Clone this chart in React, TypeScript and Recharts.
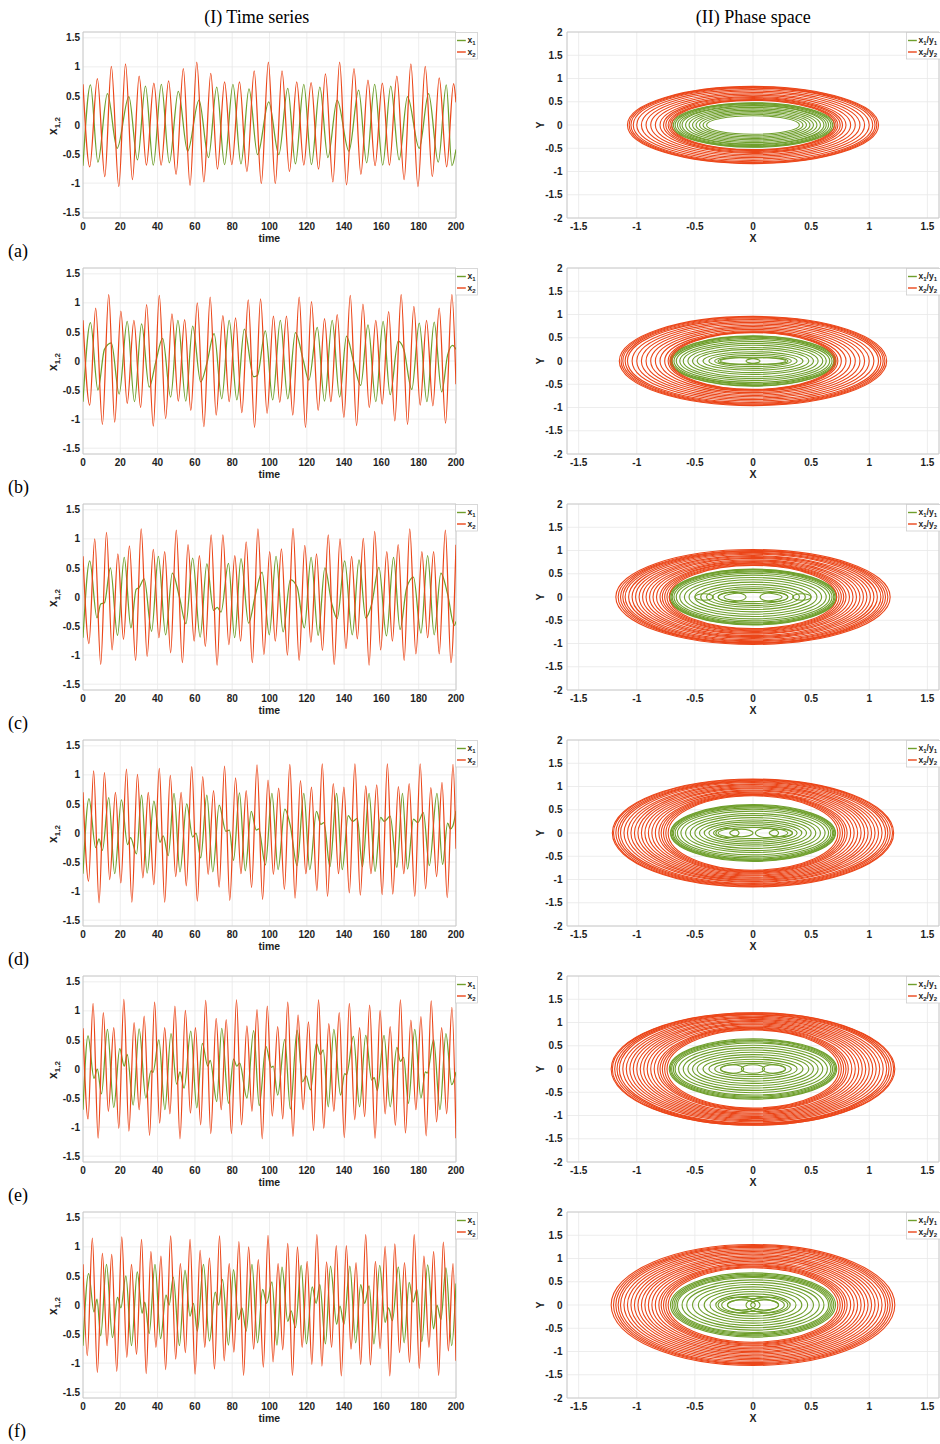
import React from 'react';
import { LineChart, Line, ScatterChart, Scatter, XAxis, YAxis, CartesianGrid, ReferenceArea, Legend } from 'recharts';

type Pt = [number, number];
type Ring = [number, number, number]; // [centerX, semiAxisX, semiAxisY]

// ---------- text / ticks ----------
const COLUMN_TITLES = ['(I) Time series', '(II) Phase space'];
const PANEL_LABELS = ['(a)', '(b)', '(c)', '(d)', '(e)', '(f)'];
const TIME_TICKS = [0, 20, 40, 60, 80, 100, 120, 140, 160, 180, 200];
const X12_TICKS = [-1.5, -1, -0.5, 0, 0.5, 1, 1.5];
const PX_TICKS = [-1.5, -1, -0.5, 0, 0.5, 1, 1.5];
const PY_TICKS = [-2, -1.5, -1, -0.5, 0, 0.5, 1, 1.5, 2];

// ---------- time series: extrema [time, value] ----------
const TS_A_X1: Pt[] = [[0,-0.7],[4,0.69],[8,-0.64],[13.1,0.54],[18.3,-0.4],[24.6,0.49],[29.2,-0.6],[33.5,0.67],[37.7,-0.69],[42,0.7],[46.3,-0.65],[51.1,0.58],[56.1,-0.45],[62.2,0.43],[67.3,-0.56],[71.7,0.65],[75.9,-0.68],[80.4,0.7],[84.7,-0.67],[89,0.62],[93.6,-0.51],[99.6,0.4],[105,-0.51],[109.8,0.63],[113.9,-0.67],[118.4,0.7],[122.5,-0.68],[127,0.65],[131.3,-0.56],[136.3,0.43],[142.6,-0.45],[147.8,0.6],[152.1,-0.65],[156.4,0.7],[160.7,-0.69],[165,0.67],[169.5,-0.6],[174,0.49],[180.3,-0.4],[185.3,0.54],[190.5,-0.64],[194.8,0.69],[197.8,-0.7],[200,-0.42]];
const TS_A_X2: Pt[] = [[0,0.7],[3.6,-0.72],[7.7,0.8],[11.7,-0.89],[15.2,1.01],[19.2,-1.06],[22.8,1.05],[26.5,-0.94],[30.1,0.84],[34,-0.69],[38,0.72],[41.9,-0.69],[45.9,0.76],[49.9,-0.85],[53.8,0.97],[57.4,-1.04],[61,1.08],[64.8,-0.98],[68.5,0.89],[72.1,-0.76],[75.9,0.74],[79.8,-0.68],[83.9,0.74],[87.9,-0.8],[91.8,0.93],[95.6,-1.01],[99.4,1.08],[103.1,-1.01],[106.7,0.93],[110.7,-0.8],[114.6,0.74],[118.4,-0.69],[122.3,0.73],[126.3,-0.76],[130,0.88],[134,-0.98],[137.6,1.08],[141.3,-1.03],[145.3,0.97],[149,-0.85],[152.8,0.77],[156.6,-0.7],[160.5,0.72],[164.3,-0.69],[168.3,0.84],[172.2,-0.94],[175.8,1.05],[179.6,-1.06],[183.5,1.01],[187.3,-0.89],[191,0.81],[195,-0.72],[198.7,0.71],[200,0.39]];

const TS_B_X1: Pt[] = [[0,-0.7],[4,0.66],[8,-0.5],[11.5,0.2],[15.2,0.31],[19.4,-0.57],[23.7,0.68],[27.6,-0.7],[31.4,0.64],[35.5,-0.45],[39,-0.02],[42.7,0.39],[47,-0.62],[50.9,0.7],[55.1,-0.69],[58.8,0.6],[63.1,-0.36],[66.5,-0.03],[70.3,0.47],[74.4,-0.65],[78.4,0.7],[82.5,-0.67],[86.5,0.55],[91.5,-0.27],[93.5,-0.25],[97.8,0.52],[101.7,-0.67],[105.8,0.7],[109.8,-0.65],[113.9,0.49],[118.2,0],[121.1,-0.33],[125.6,0.58],[129.5,-0.69],[133.6,0.7],[137.6,-0.62],[141.3,0.43],[145,0],[148.9,-0.42],[152.8,0.62],[157,-0.7],[160.9,0.68],[164.7,-0.58],[169,0.34],[172,0.2],[176.3,-0.49],[180.3,0.65],[184.4,-0.7],[188.3,0.67],[192.3,-0.53],[195.5,0.1],[198.2,0.27],[200,0.2]];
const TS_B_X2: Pt[] = [[0,0.7],[3.6,-0.76],[6.8,0.91],[10.4,-1.09],[13.8,1.14],[17,-1.05],[20.3,0.86],[23.7,-0.73],[27.3,0.7],[30.9,-0.8],[34.1,0.97],[37.7,-1.12],[40.9,1.13],[44.3,-0.99],[47.7,0.81],[51.1,-0.69],[54.5,0.71],[57.8,-0.85],[61.3,1],[64.8,-1.13],[68.2,1.1],[71.4,-0.93],[75,0.78],[78.4,-0.7],[81.8,0.74],[85.2,-0.89],[88.6,1.05],[92,-1.14],[95.2,1.07],[98.7,-0.9],[102.1,0.77],[105.5,-0.71],[109.1,0.77],[112.5,-0.93],[115.9,1.1],[119.3,-1.14],[122.5,1.02],[126.1,-0.85],[129.5,0.73],[132.9,-0.7],[136.3,0.8],[139.9,-0.97],[143.3,1.13],[146.7,-1.11],[150.1,0.98],[153.5,-0.8],[157,0.7],[160.4,-0.74],[163.9,0.85],[167.2,-1.03],[170.6,1.14],[174,-1.09],[177.4,0.94],[180.8,-0.76],[184.2,0.7],[187.6,-0.77],[191,0.91],[194.4,-1.07],[197.8,1.14],[200,-0.4]];

const TS_C_X1: Pt[] = [[0,-0.7],[3.6,0.62],[7.5,-0.36],[9.5,-0.12],[11.5,-0.1],[14.7,0.5],[18.5,-0.66],[22.1,0.68],[25.7,-0.53],[28.5,0.13],[30,0.16],[32.8,0.31],[36.8,-0.59],[40.4,0.7],[44.3,-0.65],[47.9,0.41],[51.7,0],[55.2,-0.46],[58.8,0.67],[62.8,-0.69],[66.4,0.57],[70,-0.23],[72,-0.18],[74,-0.26],[78,0.58],[81.3,-0.7],[84.7,0.66],[88.8,-0.45],[92.4,0.03],[96,0.43],[99.9,-0.65],[103.5,0.7],[107.3,-0.6],[111.2,0.3],[114.8,0.17],[118.7,-0.53],[122.3,0.68],[126.1,-0.66],[129.7,0.5],[133.3,-0.1],[136.3,-0.37],[140.3,0.62],[144.4,-0.65],[148,0.64],[151.6,-0.36],[154.8,-0.12],[158.7,0.51],[162.7,-0.67],[166.5,0.68],[170,-0.56],[173.5,0.15],[177.2,0.34],[181.2,-0.62],[184.8,0.71],[188.3,-0.65],[191.9,0.41],[195.5,0.05],[199.1,-0.49],[200,-0.42]];
const TS_C_X2: Pt[] = [[0,0.7],[3.2,-0.8],[6.3,1],[9.5,-1.16],[12.6,1.11],[15.6,-0.91],[18.7,0.74],[21.7,-0.73],[24.9,0.88],[28.2,-1.09],[31.2,1.17],[34.4,-1.02],[37.7,0.82],[40.7,-0.7],[43.8,0.78],[47,-0.96],[50,1.15],[53.3,-1.13],[56.3,0.9],[59.6,-0.76],[62.4,0.71],[65.6,-0.85],[68.7,1.07],[71.9,-1.17],[75,1.07],[78.2,-0.82],[81.4,0.71],[84.5,-0.76],[87.5,0.95],[90.8,-1.13],[93.8,1.17],[97,-0.99],[100.1,0.78],[103.1,-0.76],[106.4,0.83],[109.6,-1],[112.6,1.18],[115.9,-1.09],[118.9,0.89],[122.2,-0.78],[125.2,0.74],[128.4,-0.92],[131.5,1.07],[134.7,-1.16],[137.8,1],[141,-0.89],[144,0.7],[147.1,-0.72],[150.3,1.01],[153.4,-1.17],[156.4,1.13],[159.6,-0.91],[162.9,0.78],[165.9,-0.76],[169,0.9],[172.2,-1.09],[175.2,1.17],[178.5,-0.98],[181.7,0.78],[184.8,-0.7],[188,0.78],[191,-0.98],[194.3,1.15],[197.3,-1.13],[200,0.9]];

const TS_D_X1: Pt[] = [[0,-0.7],[3.2,0.59],[6.8,-0.25],[8.6,-0.1],[10.4,-0.3],[13.8,0.61],[17,-0.7],[20.6,0.57],[23.9,-0.2],[25.5,-0.08],[28.7,-0.36],[31.4,0.65],[34.4,-0.69],[38,0.55],[41.3,-0.16],[43,-0.05],[45.7,-0.39],[48.8,0.68],[52,-0.67],[55.6,0.5],[58.8,-0.07],[60.6,0],[63.1,-0.43],[66.4,0.65],[69.6,-0.67],[73,0.48],[76.6,0.03],[78.5,0.05],[80.7,-0.47],[83.9,0.69],[87,-0.65],[90.2,0.37],[92.9,0.05],[94.2,0.07],[97.8,-0.55],[101.3,0.68],[104.6,-0.63],[108.2,0.41],[111.2,0.12],[114.8,-0.56],[118.4,0.68],[121.6,-0.63],[125.2,0.37],[127.5,0.15],[129.2,0.18],[132.4,-0.58],[136,0.68],[139,-0.63],[142.2,0.3],[144.5,0.2],[147.1,0.25],[149.8,-0.58],[153.4,0.68],[156.6,-0.66],[159.6,0.27],[161.5,0.2],[164.7,0.29],[168.3,-0.59],[171.3,0.68],[174,-0.62],[177.2,0.24],[179.5,0.18],[182.5,0.35],[185.7,-0.56],[189.8,0.68],[192.8,-0.54],[195.5,0.17],[197,0.07],[198.3,0.12],[200,0.38]];
const TS_D_X2: Pt[] = [[0,0.7],[3,-0.83],[5.7,1.07],[8.6,-1.2],[11.5,1.04],[14.3,-0.8],[17.4,0.7],[20.3,-0.86],[23.3,1.1],[26.2,-1.19],[29.2,1.01],[32.1,-0.77],[35,0.7],[38,-0.89],[40.9,1.11],[43.8,-1.19],[46.8,0.99],[49.7,-0.75],[52.6,0.7],[55.4,-0.91],[58.3,1.14],[61.3,-1.17],[64.2,0.97],[67.1,-0.71],[70,0.73],[73,-0.93],[75.9,1.15],[78.7,-1.16],[81.8,0.95],[84.7,-0.7],[87.5,0.73],[90.4,-0.94],[93.3,1.17],[96.3,-1.14],[99.2,0.91],[102.1,-0.71],[104.9,0.77],[108,-0.97],[110.9,1.18],[113.7,-1.12],[116.6,0.9],[119.5,-0.7],[122.5,0.79],[125.4,-0.99],[128.3,1.19],[131.1,-1.09],[134.2,0.85],[137,-0.7],[139.9,0.79],[142.8,-1.03],[145.8,1.19],[148.7,-1.07],[151.6,0.81],[154.4,-0.7],[157.5,0.83],[160.4,-1.06],[163.2,1.19],[166.1,-1.05],[169.1,0.8],[172,-0.7],[174.9,0.85],[177.9,-1.09],[180.8,1.19],[183.7,-0.96],[186.5,0.78],[189.6,-0.75],[192.5,0.87],[195.3,-1.11],[198.4,1.18],[200,-0.27]];

const TS_E_X1: Pt[] = [[0,-0.7],[2.7,0.57],[5.9,-0.16],[7.7,0],[9.9,-0.43],[13.1,0.68],[16.5,-0.66],[19.7,0.35],[22.1,0.05],[23.7,0.25],[26.9,-0.62],[30.1,0.69],[33.7,-0.5],[36.5,-0.03],[37.5,-0.06],[40.7,0.5],[43.9,-0.7],[47.2,0.61],[50.2,-0.26],[52,-0.05],[54.2,-0.33],[57.8,0.65],[61,-0.67],[64,0.44],[66.9,0.05],[68.2,0.15],[71.7,-0.56],[74.4,0.7],[78,-0.59],[80.7,0.17],[82.5,0.05],[84,0.1],[87.9,-0.5],[91.5,0.66],[94.5,-0.63],[98.1,0.39],[101,0.03],[102,0.05],[104.4,-0.45],[108.2,0.51],[111.2,-0.69],[114.8,0.67],[117.8,-0.22],[119.6,-0.12],[122,-0.36],[125.2,0.44],[127.2,0.25],[128.8,0.33],[131.5,-0.65],[134.5,0.68],[138.1,-0.45],[140.3,-0.08],[141.3,-0.1],[145,0.56],[148.3,-0.65],[151.6,0.58],[154.8,-0.19],[156.2,-0.15],[157.8,-0.37],[161.4,0.58],[164.7,-0.65],[168.3,0.37],[170.2,0.13],[171.9,0.2],[174.5,-0.59],[177.9,0.68],[181.2,-0.5],[183.6,-0.05],[184.6,-0.07],[188,0.5],[191.4,-0.7],[194.6,0.61],[197.7,-0.27],[200,-0.05]];
const TS_E_X2: Pt[] = [[0,0.7],[2.7,-0.86],[5.4,1.13],[8.1,-1.19],[10.9,0.97],[13.6,-0.73],[16.5,0.71],[19.2,-1.02],[21.9,1.2],[24.6,-1.07],[27.4,0.8],[30.1,-0.7],[32.8,0.91],[35.7,-1.14],[38.4,1.15],[41.1,-0.93],[43.8,0.71],[46.6,-0.77],[49.3,1.08],[52,-1.2],[54.9,1.01],[57.6,-0.76],[60.3,0.71],[63.1,-0.96],[65.8,1.18],[68.5,-1.11],[71.4,0.87],[74.1,-0.7],[76.8,0.85],[79.6,-1.11],[82.3,1.19],[85,-0.96],[87.9,0.74],[90.6,-0.73],[93.3,1.02],[96.1,-1.2],[98.8,1.08],[101.5,-0.81],[104.4,0.73],[107.1,-0.86],[109.8,1.15],[112.6,-1.16],[115.3,0.93],[118,-0.7],[120.9,0.81],[123.6,-1.06],[126.3,1.19],[129.1,-1.02],[131.8,0.78],[134.5,-0.73],[137.4,0.97],[140.1,-1.18],[142.8,1.13],[145.7,-0.87],[148.3,0.71],[151,-0.82],[153.7,1.1],[156.6,-1.19],[159.3,1.01],[162,-0.77],[164.7,0.73],[167.5,-0.97],[170.2,1.19],[172.9,-1.1],[175.8,0.84],[178.5,-0.7],[181.2,0.9],[184,-1.15],[186.7,1.17],[189.6,-0.91],[192.3,0.71],[195,-0.77],[197.8,1.06],[200,-1.19]];

const TS_F_X1: Pt[] = [[0,-0.7],[3,0.54],[5.9,-0.12],[7.5,0.1],[9.5,-0.53],[12.6,0.7],[15.8,-0.56],[18.5,0.13],[20.3,-0.05],[23,0.5],[26,-0.7],[29.1,0.57],[31.7,-0.14],[33.1,0.05],[35.5,-0.49],[38.6,0.7],[41.6,-0.58],[44.5,0.17],[46.2,0],[48.4,0.48],[51.7,-0.7],[54.7,0.6],[57.4,-0.19],[59.2,0.03],[61.3,-0.45],[64.6,0.7],[67.8,-0.62],[70.9,0.22],[72.7,0],[74.8,0.44],[78,-0.69],[80.7,0.61],[83.4,-0.25],[85.2,-0.05],[87.5,-0.45],[90.6,0.7],[93.6,-0.65],[96.3,0.27],[98.5,0.03],[101.3,0.4],[104,-0.69],[106.7,0.65],[109.8,-0.28],[111.6,-0.1],[113.9,-0.39],[117,0.68],[119.8,-0.67],[122.9,0.31],[125,0.03],[127,0.35],[130,-0.67],[132.7,0.67],[136,-0.33],[137.8,-0.02],[139.9,-0.33],[143.1,0.67],[146.2,-0.65],[148.9,0.35],[151,0.03],[153.4,0.33],[156,-0.67],[159.1,0.68],[162,-0.3],[163.8,-0.05],[165.9,-0.27],[169.1,0.65],[172.2,-0.65],[174.9,0.39],[177,0.05],[179,0.27],[181.7,-0.63],[184.8,0.69],[188,-0.41],[189.8,0],[191.9,-0.25],[194.6,0.64],[197.7,-0.7],[200,0.37]];
const TS_F_X2: Pt[] = [[0,0.7],[2.3,-0.87],[5,1.15],[7.7,-1.16],[10.4,0.89],[12.9,-0.7],[15.4,0.87],[18.1,-1.14],[20.8,1.17],[23.5,-0.9],[26,0.7],[28.7,-0.85],[31.4,1.13],[33.9,-1.18],[36.4,0.92],[39.1,-0.73],[41.8,0.84],[44.3,-1.11],[47,1.19],[49.7,-0.93],[52.2,0.71],[54.9,-0.82],[57.4,1.13],[60.1,-1.19],[62.8,0.94],[65.3,-0.73],[67.8,0.81],[70.5,-1.1],[73.2,1.19],[75.7,-0.96],[78.4,0.71],[80.9,-0.81],[83.6,1.09],[86.1,-1.21],[88.8,1],[91.5,-0.76],[94,0.78],[96.7,-1.07],[99.2,1.2],[101.9,-0.98],[104.6,0.71],[107.1,-0.77],[109.8,1.06],[112.3,-1.21],[115,1],[117.5,-0.73],[120.2,0.75],[122.7,-1.02],[125.4,1.21],[128.1,-1.05],[130.6,0.74],[133.3,-0.73],[135.8,1.02],[138.5,-1.22],[141.2,1.02],[143.7,-0.76],[146.4,0.73],[148.9,-1.02],[151.6,1.21],[154.1,-1.03],[156.8,0.75],[159.3,-0.75],[162,1.01],[164.5,-1.22],[167.2,1.05],[169.7,-0.82],[172.4,0.73],[175.1,-0.99],[177.6,1.21],[180.3,-1.09],[182.8,0.84],[185.5,-0.73],[188,0.92],[190.7,-1.21],[193.2,1.08],[195.9,-0.79],[198.4,0.71],[200,-0.96]];

// ---------- phase space: loops [centerX, half-width, half-height] ----------
const PH_A_GREEN: Ring[] = [[0,0.4,0.2],[0,0.43,0.23],[0,0.46,0.26],[0,0.49,0.29],[0,0.52,0.32],[0,0.55,0.35],[0,0.58,0.38],[0,0.61,0.41],[0,0.63,0.42],[0,0.65,0.44],[0,0.67,0.46],[0,0.685,0.47],[0,0.7,0.48]];
const PH_A_RED: Ring[] = [[0,0.7,0.53],[0,0.715,0.54],[0,0.73,0.55],[0,0.75,0.57],[0,0.77,0.59],[0,0.8,0.61],[0,0.84,0.64],[0,0.88,0.67],[0,0.92,0.7],[0,0.96,0.73],[0,1,0.76],[0,1.03,0.79],[0,1.05,0.805],[0,1.065,0.82],[0,1.08,0.83]];
const PH_B_GREEN: Ring[] = [[-0.12,0.18,0.07],[0.12,0.18,0.07],[0,0.28,0.08],[0,0.33,0.12],[0,0.38,0.16],[0,0.43,0.2],[0,0.48,0.25],[0,0.52,0.29],[0,0.56,0.34],[0,0.6,0.38],[0,0.63,0.42],[0,0.66,0.46],[0,0.68,0.49],[0,0.695,0.51],[0,0.705,0.53],[0,0.71,0.54]];
const PH_B_RED: Ring[] = [[0,0.7,0.61],[0,0.715,0.62],[0,0.73,0.63],[0,0.76,0.65],[0,0.8,0.68],[0,0.84,0.71],[0,0.88,0.74],[0,0.92,0.77],[0,0.96,0.8],[0,1,0.83],[0,1.04,0.86],[0,1.08,0.89],[0,1.1,0.91],[0,1.12,0.93],[0,1.135,0.945],[0,1.15,0.96]];
const PH_C_GREEN: Ring[] = [[-0.42,0.08,0.07],[0.42,0.08,0.07],[-0.18,0.12,0.1],[0.18,0.12,0.1],[0,0.25,0.1],[0,0.3,0.14],[0,0.35,0.18],[0,0.4,0.22],[0,0.45,0.27],[0,0.5,0.32],[0,0.55,0.37],[0,0.59,0.42],[0,0.63,0.47],[0,0.66,0.51],[0,0.68,0.54],[0,0.695,0.56],[0,0.705,0.58],[0,0.715,0.59],[0,0.72,0.6]];
const PH_C_RED: Ring[] = [[0,0.72,0.68],[0,0.74,0.695],[0,0.76,0.71],[0,0.78,0.725],[0,0.8,0.74],[0,0.83,0.76],[0,0.86,0.78],[0,0.89,0.8],[0,0.92,0.83],[0,0.95,0.85],[0,0.98,0.87],[0,1.01,0.89],[0,1.04,0.92],[0,1.07,0.94],[0,1.1,0.96],[0,1.12,0.98],[0,1.14,0.99],[0,1.16,1],[0,1.18,1.02]];
const PH_D_GREEN: Ring[] = [[-0.22,0.1,0.1],[-0.1,0.1,0.08],[0.12,0.1,0.1],[0.24,0.1,0.08],[0,0.3,0.12],[0,0.34,0.16],[0,0.38,0.2],[0,0.42,0.24],[0,0.46,0.28],[0,0.5,0.33],[0,0.54,0.38],[0,0.58,0.42],[0,0.62,0.47],[0,0.65,0.51],[0,0.67,0.54],[0,0.685,0.565],[0,0.695,0.58],[0,0.705,0.595],[0,0.71,0.61]];
const PH_D_RED: Ring[] = [[0,0.73,0.8],[0,0.75,0.815],[0,0.77,0.83],[0,0.79,0.845],[0,0.81,0.86],[0,0.84,0.88],[0,0.87,0.905],[0,0.9,0.925],[0,0.93,0.95],[0,0.96,0.97],[0,0.99,0.995],[0,1.02,1.015],[0,1.05,1.04],[0,1.08,1.06],[0,1.11,1.085],[0,1.14,1.105],[0,1.16,1.12],[0,1.18,1.135],[0,1.2,1.15],[0,1.21,1.16]];
const PH_E_GREEN: Ring[] = [[-0.18,0.1,0.09],[0,0.1,0.09],[0.18,0.1,0.09],[0,0.28,0.12],[0,0.33,0.16],[0,0.38,0.21],[0,0.43,0.26],[0,0.48,0.31],[0,0.52,0.36],[0,0.56,0.41],[0,0.6,0.46],[0,0.64,0.51],[0,0.67,0.56],[0,0.685,0.585],[0,0.7,0.61],[0,0.71,0.63],[0,0.72,0.65]];
const PH_E_RED: Ring[] = [[0,0.74,0.84],[0,0.76,0.855],[0,0.78,0.87],[0,0.8,0.885],[0,0.82,0.9],[0,0.85,0.925],[0,0.88,0.95],[0,0.91,0.97],[0,0.94,0.995],[0,0.97,1.02],[0,1,1.04],[0,1.03,1.065],[0,1.06,1.09],[0,1.09,1.11],[0,1.12,1.135],[0,1.15,1.16],[0,1.17,1.175],[0,1.19,1.19],[0,1.21,1.205],[0,1.22,1.21]];
const PH_F_GREEN: Ring[] = [[-0.12,0.18,0.17],[0.12,0.18,0.17],[-0.1,0.12,0.11],[0.1,0.12,0.11],[0,0.22,0.14],[0,0.27,0.19],[0,0.32,0.24],[0,0.37,0.29],[0,0.42,0.34],[0,0.47,0.39],[0,0.52,0.44],[0,0.57,0.49],[0,0.61,0.54],[0,0.65,0.59],[0,0.665,0.615],[0,0.68,0.64],[0,0.695,0.665],[0,0.71,0.69]];
const PH_F_RED: Ring[] = [[0,0.73,0.8],[0,0.75,0.82],[0,0.77,0.84],[0,0.79,0.86],[0,0.81,0.88],[0,0.84,0.91],[0,0.87,0.94],[0,0.9,0.97],[0,0.93,1],[0,0.96,1.03],[0,0.99,1.06],[0,1.02,1.09],[0,1.05,1.12],[0,1.08,1.15],[0,1.11,1.18],[0,1.14,1.21],[0,1.16,1.24],[0,1.18,1.26],[0,1.2,1.28],[0,1.22,1.3]];

const TIME_SERIES = [
  { x1: TS_A_X1, x2: TS_A_X2 }, { x1: TS_B_X1, x2: TS_B_X2 }, { x1: TS_C_X1, x2: TS_C_X2 },
  { x1: TS_D_X1, x2: TS_D_X2 }, { x1: TS_E_X1, x2: TS_E_X2 }, { x1: TS_F_X1, x2: TS_F_X2 },
];
const PHASE = [
  { g: PH_A_GREEN, r: PH_A_RED }, { g: PH_B_GREEN, r: PH_B_RED }, { g: PH_C_GREEN, r: PH_C_RED },
  { g: PH_D_GREEN, r: PH_D_RED }, { g: PH_E_GREEN, r: PH_E_RED }, { g: PH_F_GREEN, r: PH_F_RED },
];

// ---------- style ----------
const GREEN = '#6f9f2c';
const RED = '#eb4619';
const GRID = '#e9e9e9';
const BOX = '#c6c6c6';
const INK = '#1e1e1e';
const FONT_SANS = '"Liberation Sans", Arial, Helvetica, sans-serif';
const FONT_SERIF = '"Liberation Serif", "Times New Roman", serif';
const ROW_STEP = 236;

const TIME_LEGEND = [
  { color: GREEN, parts: [['x', '1']] },
  { color: RED, parts: [['x', '2']] },
];
const PHASE_LEGEND = [
  { color: GREEN, parts: [['x', '1'], ['/y', '1']] },
  { color: RED, parts: [['x', '2'], ['/y', '2']] },
];

const toObj = (arr: Pt[]) => arr.map(([t, v]) => ({ t, v }));
const ringPoints = ([cx, rx, ry]: Ring) => [
  { x: cx + rx, y: 0 }, { x: cx, y: ry }, { x: cx - rx, y: 0 }, { x: cx, y: -ry },
];

// bold tick labels
const BottomTick = (props: any) => (
  <text x={props.x} y={props.y} dy="0.71em" textAnchor="middle" fontSize={10} fontWeight={700}
    fontFamily={FONT_SANS} fill={INK}>{props.payload.value}</text>
);
const LeftTick = (props: any) => (
  <text x={props.x} y={props.y} dy="0.36em" textAnchor="end" fontSize={10} fontWeight={700}
    fontFamily={FONT_SANS} fill={INK}>{props.payload.value}</text>
);

// closed curve through the four axis-extreme points of each loop (cubic Bezier quarter arcs)
const K = 0.5522847498;
const loopCurve: any = (context: any) => {
  let pts: number[][] = [];
  return {
    areaStart() {}, areaEnd() {},
    lineStart() { pts = []; },
    point(x: number, y: number) { pts.push([x, y]); },
    lineEnd() {
      if (pts.length < 4) return;
      const seq = [pts[0], pts[1], pts[2], pts[3], pts[0]];
      context.moveTo(seq[0][0], seq[0][1]);
      for (let i = 0; i < 4; i++) {
        const a = seq[i];
        const b = seq[i + 1];
        if (i % 2 === 0) {
          context.bezierCurveTo(a[0], a[1] + K * (b[1] - a[1]), b[0] + K * (a[0] - b[0]), b[1], b[0], b[1]);
        } else {
          context.bezierCurveTo(a[0] + K * (b[0] - a[0]), a[1], b[0], b[1] + K * (a[1] - b[1]), b[0], b[1]);
        }
      }
      context.closePath();
    },
  };
};

const NoDot = () => <g />;

const LegendBox = ({ entries, width }: { entries: typeof TIME_LEGEND; width: number }) => (
  <svg width={width} height={28} style={{ display: 'block', overflow: 'visible' }}>
    <rect x={0.5} y={0.5} width={width - 1} height={26.5} fill="#ffffff" stroke="#cfcfcf" strokeWidth={0.8} />
    {entries.map((e, i) => {
      const y = 8.5 + i * 11.5;
      return (
        <g key={i}>
          <line x1={2} x2={10.8} y1={y} y2={y} stroke={e.color} strokeWidth={1.4} />
          <text x={12.5} y={y + 2.6} fontSize={8.5} fontWeight={700} fontFamily={FONT_SANS} fill={INK}>
            {e.parts.map(([main, sub], j) => (
              <React.Fragment key={j}>
                <tspan dy={j === 0 ? 0 : -2}>{main}</tspan>
                <tspan fontSize={6} dy={2}>{sub}</tspan>
              </React.Fragment>
            ))}
          </text>
        </g>
      );
    })}
  </svg>
);

const timeLabel = () => (
  <text x={229.3} y={221.8} textAnchor="middle" fontSize={10.5} fontWeight={700} fontFamily={FONT_SANS} fill={INK}>time</text>
);
const x12Label = () => (
  <text transform="translate(16.7,106) rotate(-90)" textAnchor="middle" fontSize={12} fontWeight={700} fontFamily={FONT_SANS} fill={INK}>
    x<tspan fontSize={8} dy={3}>1,2</tspan>
  </text>
);
const phaseXLabel = () => (
  <text x={233} y={221.8} textAnchor="middle" fontSize={10.5} fontWeight={700} fontFamily={FONT_SANS} fill={INK}>X</text>
);
const phaseYLabel = () => (
  <text transform="translate(24,105) rotate(-90)" textAnchor="middle" fontSize={10.5} fontWeight={700} fontFamily={FONT_SANS} fill={INK}>Y</text>
);

const TimePanel = ({ row }: { row: number }) => {
  const s = TIME_SERIES[row];
  return (
    <div style={{ position: 'absolute', left: 40, top: 20 + row * ROW_STEP, width: 460, height: 230 }}>
      <LineChart width={460} height={230} margin={{ top: 12, right: 44, bottom: 12, left: 13 }}>
        <CartesianGrid stroke={GRID} strokeWidth={0.8} />
        <ReferenceArea x1={0} x2={200} y1={-1.6} y2={1.6} fill="none" stroke={BOX} strokeWidth={0.9} ifOverflow="visible" />
        <XAxis type="number" dataKey="t" domain={[0, 200]} ticks={TIME_TICKS} interval={0} allowDataOverflow height={20}
          axisLine={false} tickLine={false} tickSize={3} tickMargin={2} tick={<BottomTick />} label={timeLabel} />
        <YAxis type="number" dataKey="v" domain={[-1.6, 1.6]} ticks={X12_TICKS} interval={0} allowDataOverflow width={30}
          axisLine={false} tickLine={false} tickSize={1} tickMargin={2} tick={<LeftTick />} label={x12Label} />
        <Line data={toObj(s.x1)} dataKey="v" name="x1" type="monotone" stroke={GREEN} strokeWidth={1.25} dot={false} isAnimationActive={false} />
        <Line data={toObj(s.x2)} dataKey="v" name="x2" type="monotone" stroke={RED} strokeWidth={1.25} dot={false} isAnimationActive={false} />
        <Legend layout="horizontal" verticalAlign="middle" align="center"
          wrapperStyle={{ left: 415, top: 12, width: 23, height: 28 }}
          content={() => <LegendBox entries={TIME_LEGEND} width={23} />} />
      </LineChart>
    </div>
  );
};

const PhasePanel = ({ row }: { row: number }) => {
  const p = PHASE[row];
  return (
    <div style={{ position: 'absolute', left: 520, top: 20 + row * ROW_STEP, width: 420, height: 230 }}>
      <ScatterChart width={420} height={230} margin={{ top: 12, right: 1, bottom: 12, left: 17 }}>
        <CartesianGrid stroke={GRID} strokeWidth={0.8} />
        <ReferenceArea x1={-1.6} x2={1.6} y1={-2} y2={2} fill="none" stroke={BOX} strokeWidth={0.9} ifOverflow="visible" />
        <XAxis type="number" dataKey="x" domain={[-1.6, 1.6]} ticks={PX_TICKS} interval={0} allowDataOverflow height={20}
          axisLine={false} tickLine={false} tickSize={3} tickMargin={2} tick={<BottomTick />} label={phaseXLabel} />
        <YAxis type="number" dataKey="y" domain={[-2, 2]} ticks={PY_TICKS} interval={0} allowDataOverflow width={30}
          axisLine={false} tickLine={false} tickSize={2} tickMargin={2.5} tick={<LeftTick />} label={phaseYLabel} />
        {p.g.map((r, i) => (
          <Scatter key={'g' + i} name="x1/y1" data={ringPoints(r)} fill={GREEN} line={{ stroke: GREEN, strokeWidth: 1.1 }}
            lineType="joint" lineJointType={loopCurve} shape={NoDot} legendType="none" isAnimationActive={false} />
        ))}
        {p.r.map((r, i) => (
          <Scatter key={'r' + i} name="x2/y2" data={ringPoints(r)} fill={RED} line={{ stroke: RED, strokeWidth: 1.1 }}
            lineType="joint" lineJointType={loopCurve} shape={NoDot} legendType="none" isAnimationActive={false} />
        ))}
        <Legend layout="horizontal" verticalAlign="middle" align="center"
          wrapperStyle={{ left: 386, top: 12, width: 40, height: 28 }}
          content={() => <LegendBox entries={PHASE_LEGEND} width={40} />} />
      </ScatterChart>
    </div>
  );
};

export default function App() {
  const rows = [0, 1, 2, 3, 4, 5];
  return (
    <div style={{ position: 'absolute', left: 0, top: 0, width: 940, height: 1444, overflow: 'hidden', background: '#ffffff' }}>
      <svg width={940} height={1444} style={{ position: 'absolute', left: 0, top: 0 }}>
        <text x={256.7} y={22.7} textAnchor="middle" fontFamily={FONT_SERIF} fontSize={18} fill="#000">{COLUMN_TITLES[0]}</text>
        <text x={753.3} y={22.7} textAnchor="middle" fontFamily={FONT_SERIF} fontSize={18} fill="#000">{COLUMN_TITLES[1]}</text>
        {PANEL_LABELS.map((l, i) => (
          <text key={l} x={8} y={256.5 + i * ROW_STEP} fontFamily={FONT_SERIF} fontSize={18} fill="#000">{l}</text>
        ))}
      </svg>
      {rows.map((r) => <TimePanel key={'t' + r} row={r} />)}
      {rows.map((r) => <PhasePanel key={'p' + r} row={r} />)}
    </div>
  );
}
